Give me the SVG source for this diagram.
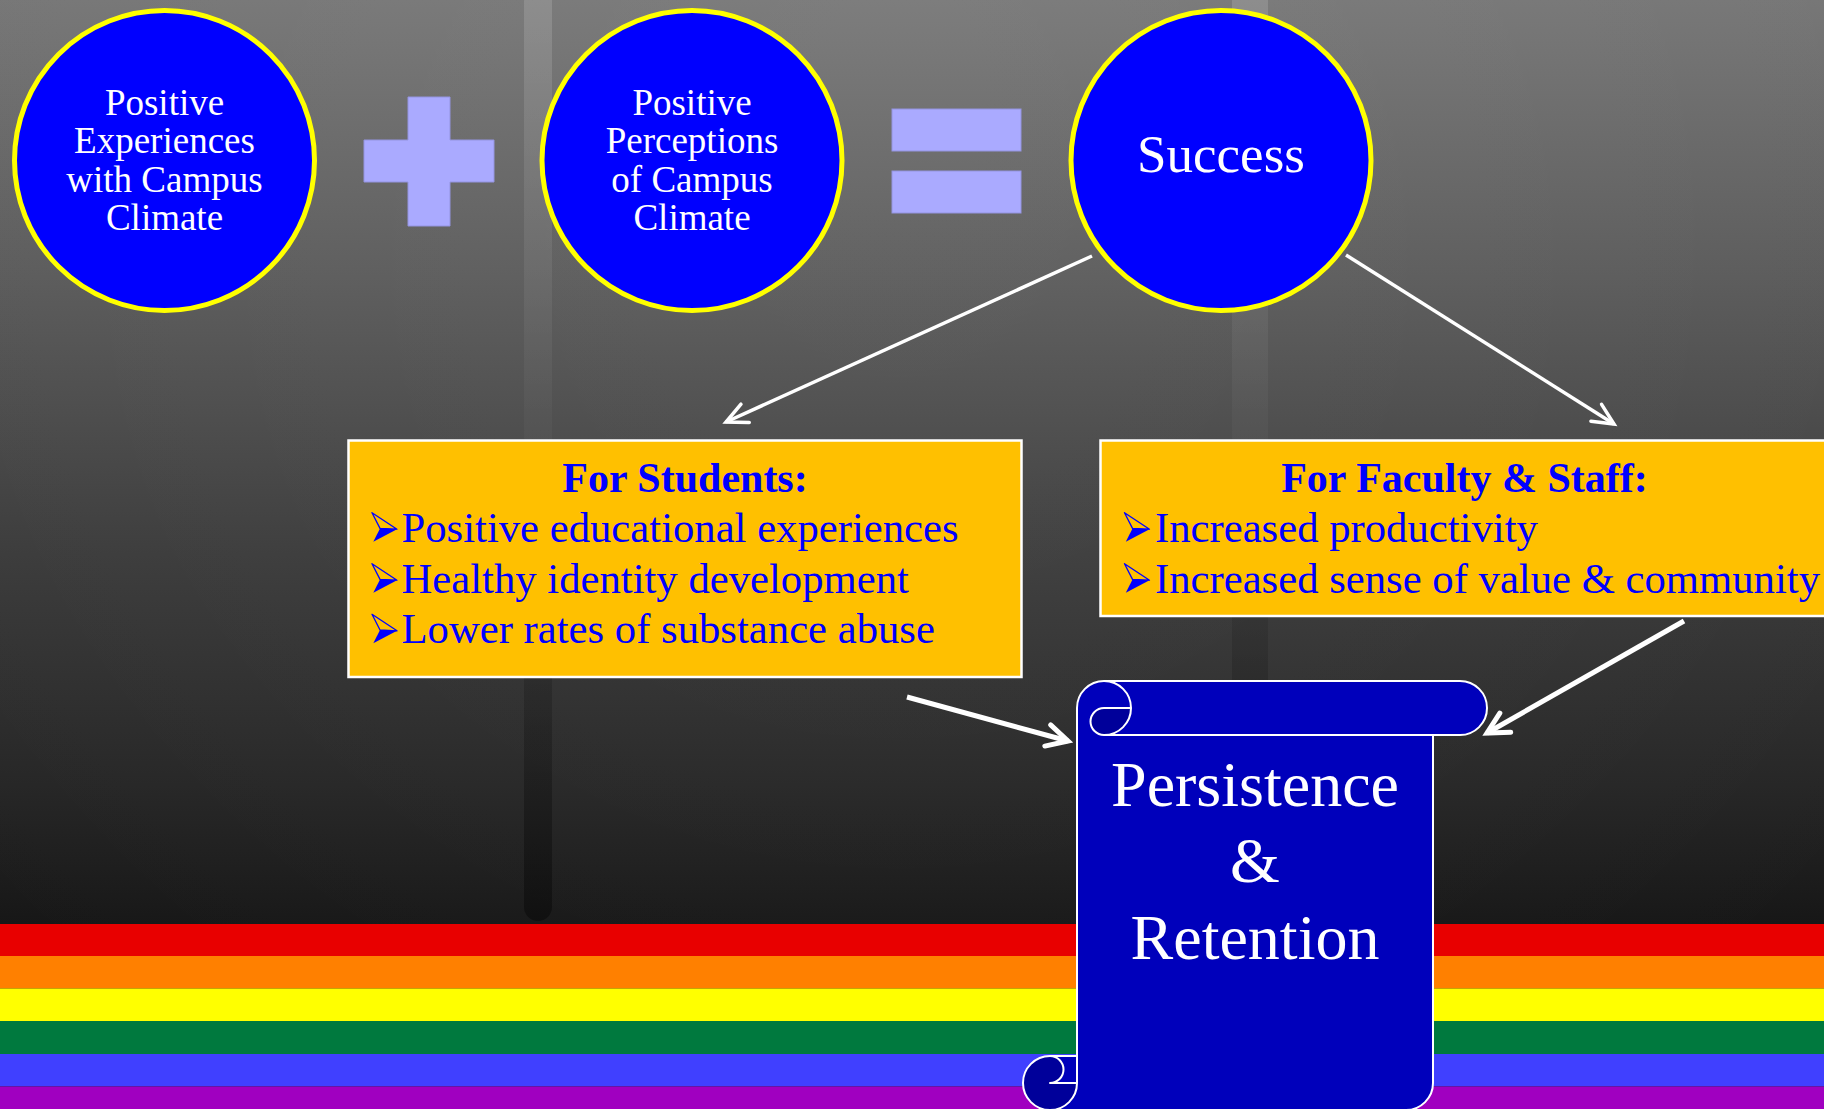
<svg xmlns="http://www.w3.org/2000/svg" width="1824" height="1109" viewBox="0 0 1824 1109">
  <style>
    .serif { font-family: "Liberation Serif", "Times New Roman", serif; }
    .disc { fill: #0000FF; stroke: #FFFF00; stroke-width: 5; }
    .disc-text { fill: #FFFFFF; font-size: 37px; text-anchor: middle; }
    .op { fill: #AAAAFF; stroke: #9494E0; stroke-width: 1; }
    .card { fill: #FFC000; stroke: #FFFFFF; stroke-width: 2.5; }
    .card-head { fill: #0000FF; font-size: 42px; font-weight: bold; text-anchor: middle; }
    .card-item { fill: #0000FF; font-size: 42.7px; }
    .scroll-body { fill: #0000BB; }
    .scroll-fold { fill: #00009A; }
    .scroll-line { fill: none; stroke: #FFFFFF; stroke-width: 2; stroke-linejoin: round; }
    .scroll-text { fill: #FFFFFF; font-size: 64px; text-anchor: middle; }
    .link-thin { fill: none; stroke: #FFFFFF; stroke-width: 3.5; marker-end: url(#headThin); }
    .link-bold { fill: none; stroke: #FFFFFF; stroke-width: 5; marker-end: url(#headBold); }
  </style>
  <defs>
    <linearGradient id="bg" x1="0" y1="0" x2="0" y2="924" gradientUnits="userSpaceOnUse">
      <stop offset="0" stop-color="#757575"/>
      <stop offset="0.3" stop-color="#5a5a5a"/>
      <stop offset="0.6" stop-color="#3b3b3b"/>
      <stop offset="0.85" stop-color="#262626"/>
      <stop offset="1" stop-color="#171717"/>
    </linearGradient>
    <radialGradient id="glow" cx="900" cy="0" r="1300" gradientUnits="userSpaceOnUse">
      <stop offset="0" stop-color="#FFFFFF" stop-opacity="0.06"/>
      <stop offset="1" stop-color="#FFFFFF" stop-opacity="0"/>
    </radialGradient>
    <linearGradient id="pillar" x1="0" y1="0" x2="0" y2="921" gradientUnits="userSpaceOnUse">
      <stop offset="0" stop-color="#FFFFFF" stop-opacity="0.14"/>
      <stop offset="0.45" stop-color="#FFFFFF" stop-opacity="0.03"/>
      <stop offset="0.62" stop-color="#000000" stop-opacity="0.06"/>
      <stop offset="1" stop-color="#000000" stop-opacity="0.38"/>
    </linearGradient>
    <marker id="headThin" markerUnits="userSpaceOnUse" markerWidth="30" markerHeight="30" refX="0" refY="0" orient="auto" overflow="visible">
      <path d="M-21,-10 L0,0 L-21,10" fill="none" stroke="#FFFFFF" stroke-width="3.5" stroke-linecap="round" stroke-linejoin="miter"/>
    </marker>
    <marker id="headBold" markerUnits="userSpaceOnUse" markerWidth="30" markerHeight="30" refX="0" refY="0" orient="auto" overflow="visible">
      <path d="M-21,-11 L0,0 L-21,11" fill="none" stroke="#FFFFFF" stroke-width="5" stroke-linecap="round" stroke-linejoin="miter"/>
    </marker>
    <!-- 3-D arrowhead bullet, origin at left end of the baseline -->
    <symbol id="bullet" overflow="visible">
      <polygon points="0,-29 25,-12.5 8,-13.3" fill="none" stroke="#0000FF" stroke-width="1.3" stroke-linejoin="round"/>
      <polygon points="8,-13.3 25,-12.5 1.3,0" fill="#0000FF"/>
    </symbol>
  </defs>

  <!-- backdrop -->
  <rect x="0" y="0" width="1824" height="1109" fill="url(#bg)"/>
  <rect x="0" y="0" width="1824" height="924" fill="url(#glow)"/>
  <rect x="524" y="-20" width="28" height="941" rx="14" fill="url(#pillar)"/>
  <rect x="1232" y="-20" width="36" height="941" rx="16" fill="url(#pillar)"/>

  <!-- rainbow band -->
  <g id="rainbow">
    <rect x="0" y="924" width="1824" height="32.5" fill="#E80000"/>
    <rect x="0" y="956" width="1824" height="32.5" fill="#FF8000"/>
    <rect x="0" y="988.5" width="1824" height="32.5" fill="#FFFF00"/>
    <rect x="0" y="1021" width="1824" height="33" fill="#00793E"/>
    <rect x="0" y="1054" width="1824" height="32.5" fill="#4040FF"/>
    <rect x="0" y="1086.5" width="1824" height="23" fill="#A000C0"/>
  </g>

  <!-- top equation -->
  <g id="experiences" class="serif">
    <circle class="disc" cx="164.5" cy="160.5" r="150"/>
    <text class="disc-text" x="164.5" y="115">Positive</text>
    <text class="disc-text" x="164.5" y="153">Experiences</text>
    <text class="disc-text" x="164.5" y="192">with Campus</text>
    <text class="disc-text" x="164.5" y="230">Climate</text>
  </g>
  <g id="plus">
    <polygon class="op" points="408,97 450,97 450,140 494,140 494,182 450,182 450,226 408,226 408,182 364,182 364,140 408,140"/>
  </g>
  <g id="perceptions" class="serif">
    <circle class="disc" cx="692" cy="160.5" r="150"/>
    <text class="disc-text" x="692" y="115">Positive</text>
    <text class="disc-text" x="692" y="153">Perceptions</text>
    <text class="disc-text" x="692" y="192">of Campus</text>
    <text class="disc-text" x="692" y="230">Climate</text>
  </g>
  <g id="equals">
    <rect class="op" x="892" y="109" width="129" height="42"/>
    <rect class="op" x="892" y="171" width="129" height="42"/>
  </g>
  <g id="success" class="serif">
    <circle class="disc" cx="1221" cy="160.5" r="150"/>
    <text x="1221" y="171.5" fill="#FFFFFF" font-size="53" text-anchor="middle">Success</text>
  </g>

  <!-- outcome cards -->
  <g id="students" class="serif">
    <rect class="card" x="348.5" y="440.5" width="673" height="236.5"/>
    <text class="card-head" x="685" y="492">For Students:</text>
    <use href="#bullet" x="372" y="541.7"/>
    <text class="card-item" x="401.5" y="541.7">Positive educational experiences</text>
    <use href="#bullet" x="372" y="592.7"/>
    <text class="card-item" x="401.5" y="592.7">Healthy identity development</text>
    <use href="#bullet" x="372" y="643.3"/>
    <text class="card-item" x="401.5" y="643.3">Lower rates of substance abuse</text>
  </g>
  <g id="faculty" class="serif">
    <rect class="card" x="1100.5" y="440.5" width="728" height="175.5"/>
    <text class="card-head" x="1464.5" y="492">For Faculty &amp; Staff:</text>
    <use href="#bullet" x="1124.5" y="541.7"/>
    <text class="card-item" x="1155" y="541.7">Increased productivity</text>
    <use href="#bullet" x="1124.5" y="592.7"/>
    <text class="card-item" x="1155" y="592.7">Increased sense of value &amp; community</text>
  </g>

  <!-- scroll -->
  <g id="persistence" class="serif">
    <path class="scroll-body" d="M1077,1056 L1077,708 A27,27 0 0 1 1104,681 L1460,681 A27,27 0 0 1 1460,735 L1433,735 L1433,1083 A27,27 0 0 1 1406,1110 L1050,1110 A27,27 0 0 1 1050,1056 Z"/>
    <path class="scroll-fold" d="M1131,708 A27,27 0 0 1 1104,735 A13.5,13.5 0 0 1 1104,708 Z"/>
    <path class="scroll-fold" d="M1077,1083 A27,27 0 1 1 1050,1056 A13.5,13.5 0 0 1 1050,1083 Z"/>
    <path class="scroll-line" d="M1077,1056 L1077,708 A27,27 0 0 1 1104,681 L1460,681 A27,27 0 0 1 1460,735 L1433,735 L1433,1083 A27,27 0 0 1 1406,1110 L1050,1110 A27,27 0 0 1 1050,1056 Z"/>
    <path class="scroll-line" d="M1104,681 A27,27 0 0 1 1104,735 A13.5,13.5 0 0 1 1104,708 L1131,708 M1433,735 L1104,735 M1050,1056 A13.5,13.5 0 0 1 1050,1083 L1077,1083 M1050,1110 A27,27 0 0 0 1077,1083 L1077,1056"/>
    <text class="scroll-text" x="1255" y="805.7">Persistence</text>
    <text class="scroll-text" x="1255" y="882.3">&amp;</text>
    <text class="scroll-text" x="1255" y="959">Retention</text>
  </g>

  <!-- connectors -->
  <g id="connectors">
    <line class="link-thin" x1="1092" y1="256" x2="726" y2="422"/>
    <line class="link-thin" x1="1346" y1="255" x2="1614" y2="424"/>
    <line class="link-bold" x1="907" y1="697" x2="1068" y2="741"/>
    <line class="link-bold" x1="1684" y1="621" x2="1487" y2="733"/>
  </g>
</svg>
